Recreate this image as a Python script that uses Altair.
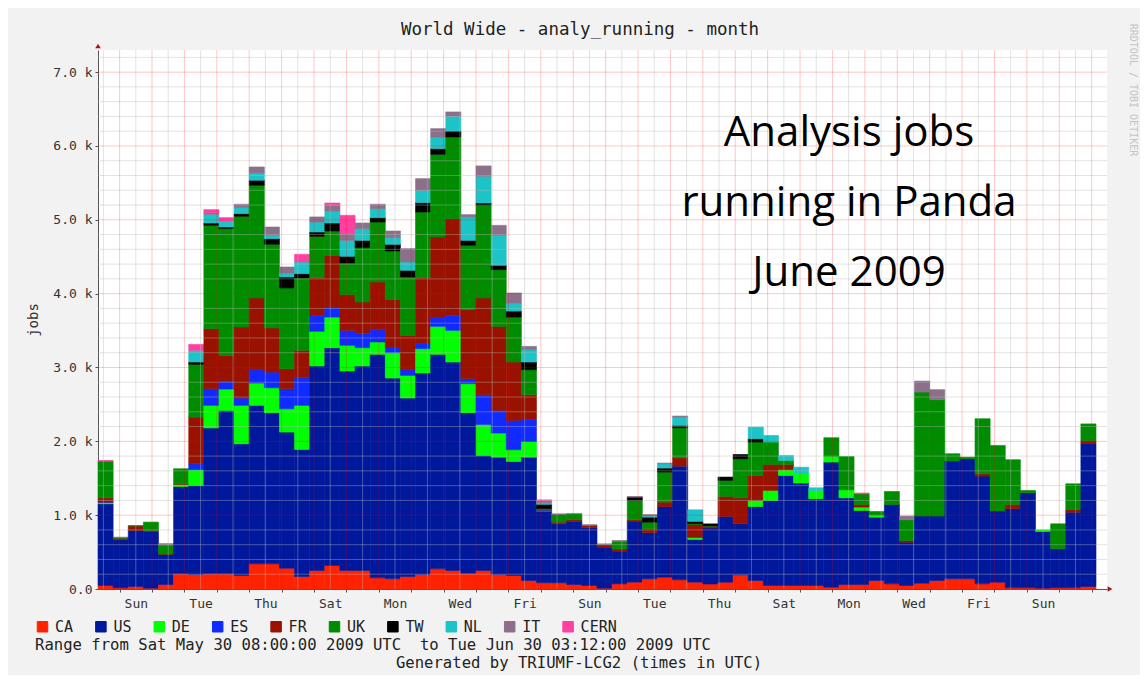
import altair as alt
import pandas as pd

# ---------------- data ----------------
SITES = ["CA", "US", "DE", "ES", "FR", "UK", "TW", "NL", "IT", "CERN"]
COLORS = ["#FF2200", "#00189C", "#00FF00", "#0F2BFF", "#991200",
          "#008C00", "#000000", "#1CC4C8", "#8C7089", "#FF40A0"]

BIN_HOURS = 11.2          # width of one consolidated time bin (hours)
RANGE_HOURS = 739.2       # Sat May 30 08:00 -> Tue Jun 30 03:12

CA = [47, 16, 34, 11, 61, 206, 196, 206, 206, 183, 341, 341, 282, 169, 251, 318, 251, 251, 151, 138,
      169, 196, 273, 251, 215, 251, 196, 183, 115, 84, 84, 61, 47, 11, 70, 93, 138, 160, 124, 93,
      68, 93, 192, 115, 47, 47, 47, 47, 25, 61, 61, 115, 70, 47, 79, 115, 138, 138, 70, 93,
      16, 16, 11, 16, 16, 34]
US = [1107, 651, 759, 768, 407, 1183, 1207, 1974, 2212, 1784, 2146, 2047, 1843, 1721, 2769, 2950, 2701, 2769, 3027, 2719,
      2417, 2729, 2905, 2823, 2172, 1558, 1590, 1544, 1671, 971, 799, 854, 782, 556, 443, 826, 623, 958, 1540, 578,
      759, 890, 691, 1003, 1152, 1491, 1387, 1175, 1694, 1174, 1003, 858, 1075, 587, 908, 872, 1595, 1626, 1459, 962,
      1071, 1287, 768, 528, 1025, 1935]
DE = [18, 0, 0, 0, 0, 27, 212, 307, 290, 520, 302, 337, 316, 597, 470, 415, 348, 248, 167, 343,
      307, 330, 379, 429, 394, 420, 326, 159, 213, 10, 0, 0, 0, 0, 0, 0, 0, 0, 0, 27,
      0, 0, 0, 81, 136, 77, 126, 113, 77, 108, 45, 32, 0, 0, 0, 0, 0, 0, 0, 0,
      0, 0, 23, 0, 0, 0]
ES = [5, 0, 0, 0, 0, 0, 81, 225, 104, 99, 181, 213, 271, 375, 216, 136, 203, 190, 167, 77,
      77, 76, 126, 203, 67, 402, 307, 397, 297, 5, 0, 0, 0, 0, 0, 0, 0, 0, 0, 0,
      0, 0, 0, 0, 0, 0, 0, 0, 0, 0, 0, 0, 0, 0, 0, 0, 0, 0, 0, 0,
      0, 0, 0, 0, 0, 0]
FR = [58, 20, 60, 14, 5, 10, 632, 814, 352, 962, 971, 597, 271, 370, 510, 698, 483, 429, 646, 646,
      465, 885, 1084, 1310, 935, 1310, 1138, 791, 335, 10, 23, 23, 30, 30, 30, 18, 54, 59, 113, 176,
      23, 271, 352, 339, 352, 72, 0, 0, 0, 0, 36, 0, 0, 23, 0, 0, 0, 0, 32, 0,
      59, 0, 0, 0, 36, 41]
UK = [497, 10, 5, 113, 122, 203, 714, 1400, 1717, 1500, 1527, 1134, 1094, 980, 560, 332, 429, 736, 813, 655,
      791, 890, 1120, 1106, 872, 1256, 768, 609, 339, 10, 104, 81, 5, 5, 104, 262, 90, 407, 407, 10,
      5, 217, 528, 452, 303, 54, 0, 0, 253, 452, 145, 45, 176, 280, 1680, 1577, 99, 22, 745, 890,
      605, 32, 0, 339, 348, 226]
TW = [0, 0, 0, 0, 0, 0, 32, 31, 22, 36, 68, 76, 149, 59, 59, 108, 91, 99, 58, 90,
      90, 127, 77, 81, 67, 31, 59, 81, 104, 57, 0, 0, 0, 0, 0, 45, 68, 54, 32, 32,
      27, 45, 59, 45, 0, 0, 0, 0, 0, 0, 0, 0, 0, 0, 0, 0, 0, 0, 0, 0,
      0, 0, 0, 0, 0, 0]
NL = [0, 0, 0, 0, 0, 0, 158, 118, 81, 81, 99, 45, 54, 158, 135, 163, 216, 158, 123, 90,
      113, 167, 158, 200, 317, 362, 406, 109, 167, 20, 0, 5, 0, 0, 0, 0, 15, 59, 113, 157,
      0, 0, 0, 158, 90, 68, 90, 36, 0, 0, 0, 0, 0, 0, 0, 0, 0, 0, 0, 0,
      0, 0, 0, 0, 0, 0]
IT = [0, 5, 0, 0, 20, 0, 0, 20, 0, 46, 81, 113, 81, 0, 69, 77, 91, 77, 59, 91,
      181, 158, 113, 58, 31, 140, 135, 136, 45, 30, 8, 0, 5, 10, 10, 9, 20, 9, 13, 0,
      0, 0, 0, 0, 0, 0, 0, 0, 0, 0, 0, 0, 0, 50, 149, 136, 0, 0, 0, 0,
      0, 0, 0, 0, 0, 0]
CERN = [9, 0, 0, 0, 0, 0, 81, 43, 46, 0, 0, 0, 0, 104, 0, 31, 248, 0, 0, 0,
        0, 0, 0, 0, 0, 0, 0, 0, 0, 10, 0, 0, 0, 0, 0, 0, 0, 0, 0, 0,
        0, 0, 0, 0, 0, 0, 0, 0, 0, 0, 10, 0, 0, 0, 0, 0, 0, 0, 0, 0,
        0, 0, 0, 0, 0, 0]

SERIES = [CA, US, DE, ES, FR, UK, TW, NL, IT, CERN]

# x axis: day names, every other day, placed at noon
DAY_NAMES = ["Sun", "Mon", "Tue", "Wed", "Thu", "Fri", "Sat"]
FIRST_MIDNIGHT = 16       # Sun May 31 00:00 is 16 h after the range start
Y_TICKS = [0, 1000, 2000, 3000, 4000, 5000, 6000, 7000]

TITLE = "World Wide - analy_running - month"
RANGE_TEXT = "Range from Sat May 30 08:00:00 2009 UTC \u00a0to Tue Jun 30 03:12:00 2009 UTC"
GEN_TEXT = "Generated by TRIUMF-LCG2 (times in UTC)"
NOTE_TEXT = "Analysis jobs\nrunning in Panda\nJune 2009"
WATERMARK = "RRDTOOL / TOBI OETIKER"

# ---------------- tables ----------------
rows = []
for k in range(len(CA)):
    for i, (site, vals) in enumerate(zip(SITES, SERIES)):
        if vals[k] > 0:
            rows.append({"bin": k, "start": k * BIN_HOURS, "end": (k + 1) * BIN_HOURS,
                         "site": site, "order": i, "jobs": vals[k]})
df = pd.DataFrame(rows)

h_minor = pd.DataFrame({"y0": [v for v in range(200, 7300, 200) if v % 1000 != 0]})
h_major = pd.DataFrame({"y0": list(range(1000, 8000, 1000))})
midnights = [FIRST_MIDNIGHT + 24 * d for d in range(31) if FIRST_MIDNIGHT + 24 * d <= RANGE_HOURS]
noons = [FIRST_MIDNIGHT - 12 + 24 * d for d in range(31) if FIRST_MIDNIGHT - 12 + 24 * d <= RANGE_HOURS]
v_major = pd.DataFrame({"start": midnights})
v_minor = pd.DataFrame({"start": noons})

# ---------------- geometry ----------------
W, H = 1009, 539
X_MAX = RANGE_HOURS * W / 998.0
Y_MAX = 7300
MONO = "DejaVu Sans Mono"

xs = alt.Scale(domain=[0, X_MAX], nice=False, zero=False)
ys = alt.Scale(domain=[0, Y_MAX], nice=False, zero=True)

day_arr = "[" + ",".join("'%s'" % d for d in DAY_NAMES) + "]"
x_label_expr = ("((datum.value - %d) %% 48 == 0 && datum.value + 12 < %g) ? %s[((datum.value - %d) / 24) %% 7] : ''"
                % (FIRST_MIDNIGHT, RANGE_HOURS, day_arr, FIRST_MIDNIGHT))

x_axis = alt.Axis(values=midnights, labelExpr=x_label_expr, labelOffset=16.2,
                  grid=False, tickSize=3, tickColor="#555", domainColor="#555",
                  labelFont=MONO, labelFontSize=13, labelColor="#333",
                  labelPadding=5, labelOverlap=False, labelFlush=False, title=None)
y_axis = alt.Axis(values=Y_TICKS,
                  labelExpr="datum.value == 0 ? '0.0' : format(datum.value / 1000, '.1f') + ' k'",
                  grid=False, tickSize=3, tickColor="#555", domainColor="#555",
                  labelFont=MONO, labelFontSize=13, labelColor="#333", labelPadding=3,
                  labelFlush=False, labelOverlap=False,
                  title="jobs", titleFont=MONO, titleFontSize=14, titleFontWeight="normal",
                  titleColor="#333", titleAngle=270, titleX=-65, titleY=H / 2,
                  titleAlign="center", titleBaseline="middle")

X_ENC = alt.X("start:Q", scale=xs, axis=x_axis)
Y_ENC = alt.Y("y0:Q", scale=ys, axis=y_axis)

bars = alt.Chart(df).transform_stack(
    stack="jobs", as_=["y0", "y1"], groupby=["bin"],
    sort=[alt.SortField("order", order="ascending")]
).mark_rect(strokeWidth=0.6).encode(
    x=X_ENC,
    x2="end:Q",
    y=Y_ENC,
    y2="y1:Q",
    color=alt.Color("site:N", scale=alt.Scale(domain=SITES, range=COLORS),
                    legend=alt.Legend(orient="none", legendX=-63, legendY=569,
                                      direction="horizontal", columns=10, title=None,
                                      symbolType="square", symbolSize=110,
                                      symbolStrokeColor="black", symbolStrokeWidth=1,
                                      symbolOpacity=1,
                                      labelFont=MONO, labelFontSize=15, labelColor="#222",
                                      labelOffset=5, columnPadding=19.4)),
    stroke=alt.Stroke("site:N", scale=alt.Scale(domain=SITES, range=COLORS), legend=None),
)

grid_h_minor = alt.Chart(h_minor).mark_rule(color="#b8b8b8", opacity=0.4, strokeWidth=1).encode(y=Y_ENC)
grid_v_minor = alt.Chart(v_minor).mark_rule(color="#b8b8b8", opacity=0.4, strokeWidth=1).encode(x=X_ENC)
grid_h_major = alt.Chart(h_major).mark_rule(color="#ff0000", opacity=0.22, strokeWidth=1).encode(y=Y_ENC)
grid_v_major = alt.Chart(v_major).mark_rule(color="#ff0000", opacity=0.22, strokeWidth=1).encode(x=X_ENC)

one = pd.DataFrame({"t": [0]})
title_txt = alt.Chart(pd.DataFrame({"t": [TITLE]})).mark_text(
    font=MONO, fontSize=17.5, color="#222", align="center", baseline="middle").encode(
    text="t:N", x=alt.value(482), y=alt.value(-20))
range_txt = alt.Chart(pd.DataFrame({"t": [RANGE_TEXT]})).mark_text(
    font=MONO, fontSize=15.6, color="#222", align="left", baseline="middle").encode(
    text="t:N", x=alt.value(-63), y=alt.value(595))
gen_txt = alt.Chart(pd.DataFrame({"t": [GEN_TEXT]})).mark_text(
    font=MONO, fontSize=15.6, color="#222", align="center", baseline="middle").encode(
    text="t:N", x=alt.value(481), y=alt.value(613))
note_txt = alt.Chart(pd.DataFrame({"t": [NOTE_TEXT]})).mark_text(
    font="Open Sans", fontSize=42, color="black", align="center", baseline="middle",
    lineBreak="\n", lineHeight=70).encode(
    text="t:N", x=alt.value(751), y=alt.value(83))
wm_txt = alt.Chart(pd.DataFrame({"t": [WATERMARK]})).mark_text(
    font=MONO, fontSize=10, color="#c4c4c4", align="center", baseline="middle", angle=90).encode(
    text="t:N", x=alt.value(1035), y=alt.value(40))
arrow_y = alt.Chart(one).mark_point(shape="triangle-up", filled=True, size=30,
                                     color="#a01818", opacity=1).encode(
    x=alt.value(0), y=alt.value(-4))
arrow_x = alt.Chart(one).mark_point(shape="triangle-right", filled=True, size=30,
                                     color="#a01818", opacity=1).encode(
    x=alt.value(W + 3), y=alt.value(H))

chart = alt.layer(
    bars, grid_h_minor, grid_v_minor, grid_h_major, grid_v_major,
    title_txt, range_txt, gen_txt, note_txt, wm_txt, arrow_y, arrow_x
).properties(
    width=W, height=H,
    autosize=alt.AutoSizeParams(type="none"),
    padding={"left": 90, "top": 42, "right": 33, "bottom": 86},
    background="#f2f2f2",
).configure_view(fill="white", stroke=None)

chart.save("out.html", embed_options={"renderer": "svg", "actions": False})
